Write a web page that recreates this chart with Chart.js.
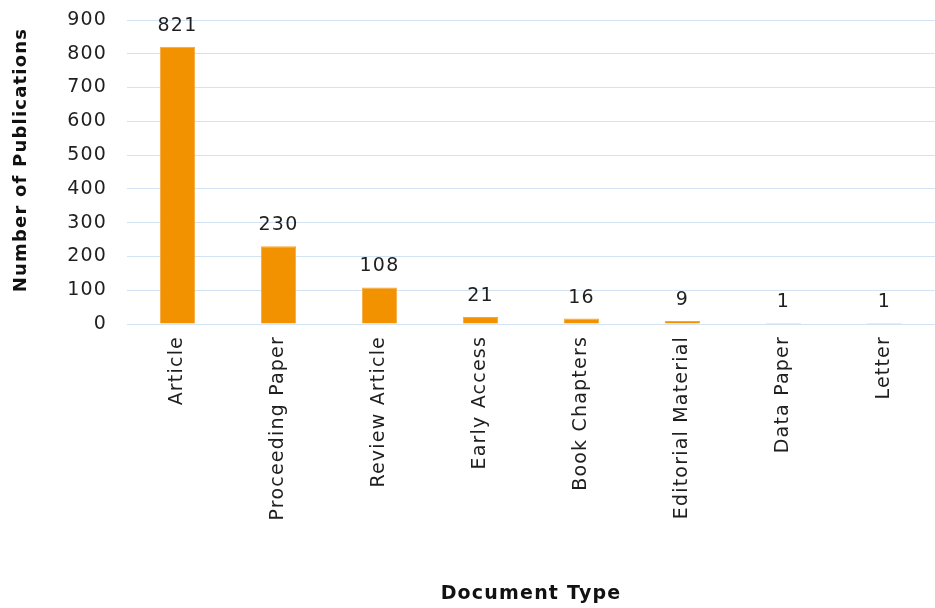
<!DOCTYPE html>
<html>
<head>
<meta charset="utf-8">
<script src="https://cdn.jsdelivr.net/npm/chart.js@4/dist/chart.umd.min.js"></script>
<style>
  html, body { margin: 0; padding: 0; background: #ffffff; }
  #wrap { width: 935px; height: 608px; position: relative; }
</style>
</head>
<body>
<div id="wrap"><canvas id="chart" width="935" height="608"></canvas></div>
<script>
// Publication counts by document type
const documentTypes = ["Article", "Proceeding Paper", "Review Article", "Early Access",
  "Book Chapters", "Editorial Material", "Data Paper", "Letter"];
const publicationCounts = [821, 230, 108, 21, 16, 9, 1, 1];
const yTicks = [0, 100, 200, 300, 400, 500, 600, 700, 800, 900];
const yAxisTitle = "Number of Publications";

const FONT = "'DejaVu Sans', 'Open Sans', sans-serif";
const TEXT = "#1f1f1f";

// Slightly open letter spacing for all chart text
const spacing = {
  id: "spacing",
  beforeDraw(chart) { chart.ctx.letterSpacing = "1.2px"; }
};

// Writes each bar's value just above it, plus the vertical y-axis title
const valueLabels = {
  id: "valueLabels",
  afterDatasetsDraw(chart) {
    const ctx = chart.ctx;
    const meta = chart.getDatasetMeta(0);
    ctx.save();
    ctx.font = "19px " + FONT;
    ctx.fillStyle = TEXT;
    ctx.textAlign = "center";
    ctx.textBaseline = "middle";
    meta.data.forEach((bar, i) => {
      ctx.fillText(String(publicationCounts[i]), bar.x, bar.y - 21);
    });
    ctx.restore();

    ctx.save();
    ctx.font = "bold 18px " + FONT;
    ctx.fillStyle = "#111111";
    ctx.textAlign = "center";
    ctx.textBaseline = "middle";
    ctx.translate(21, 160);
    ctx.rotate(-Math.PI / 2);
    ctx.fillText(yAxisTitle, 0, 0);
    ctx.restore();
  }
};

new Chart(document.getElementById("chart"), {
  type: "bar",
  data: {
    labels: documentTypes,
    datasets: [{
      data: publicationCounts,
      backgroundColor: "#F29200",
      borderColor: "#F5A83A",
      borderWidth: 1,
      minBarLength: 1,
      barPercentage: 0.35,
      categoryPercentage: 1.0
    }]
  },
  options: {
    responsive: false,
    animation: false,
    layout: { padding: { top: 20, right: 0, bottom: 0, left: 0 } },
    plugins: { legend: { display: false }, tooltip: { enabled: false } },
    scales: {
      x: {
        grid: { display: false, drawTicks: false },
        border: { display: false },
        ticks: {
          font: { family: FONT, size: 19 },
          color: TEXT,
          minRotation: 90,
          maxRotation: 90,
          padding: 12,
          autoSkip: false
        },
        title: {
          display: true,
          text: "Document Type",
          font: { family: FONT, size: 19, weight: "bold" },
          color: "#111111",
          padding: { top: 0, bottom: 3 }
        },
        afterFit(scale) {
          scale.height = 284;
          scale.paddingLeft = 0;
          scale.paddingRight = 0;
        }
      },
      y: {
        min: 0,
        max: 900,
        afterBuildTicks(scale) { scale.ticks = yTicks.map(v => ({ value: v })); },
        grid: { color: "#d4e3f4", lineWidth: 1, drawTicks: false },
        border: { display: false },
        ticks: {
          font: { family: FONT, size: 19 },
          color: TEXT,
          padding: 20
        },
        title: { display: false },
        afterFit(scale) {
          scale.width = 127;
          scale.paddingTop = 0;
          scale.paddingBottom = 0;
        }
      }
    }
  },
  plugins: [spacing, valueLabels]
});
</script>
</body>
</html>
